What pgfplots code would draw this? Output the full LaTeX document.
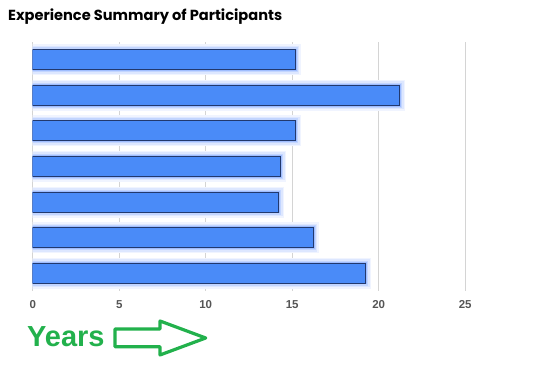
\documentclass[border=0pt]{standalone}
\usepackage{fontspec}
\setmainfont{Liberation Sans}
\newfontfamily\titlefont{Poppins}
\usepackage{pgfplots}
\pgfplotsset{compat=1.18}
\definecolor{barblue}{HTML}{4A8BF8}
\definecolor{bardark}{HTML}{22396E}
\definecolor{glowa}{HTML}{F0F4FF}
\definecolor{glowb}{HTML}{DDE7FF}
\definecolor{glowc}{HTML}{C2D5FF}
\definecolor{glowd}{HTML}{9FBDFF}
\definecolor{gridc}{HTML}{D4D4D4}
\definecolor{tickc}{HTML}{555555}
\definecolor{ygreen}{HTML}{22B14C}
\begin{document}
\begin{tikzpicture}[x=1pt,y=1pt]
\path[use as bounding box] (0,0) rectangle (555,374);
\coordinate (O) at (32.7,83);
\node[anchor=base west, inner sep=0, font=\titlefont\bfseries\fontsize{14.6}{17}\selectfont] at (8,353.3) {Experience Summary of Participants};
\begin{axis}[at={(O)}, anchor=south west, scale only axis,
  width=501.7pt, height=249pt,
  xmin=0, xmax=29, ymin=-0.5, ymax=6.5,
  axis line style={draw=none},
  xtick={0,5,...,25}, ytick=\empty,
  xmajorgrids, grid style={gridc, line width=0.8pt},
  major tick length=0pt,
  xticklabel style={font=\bfseries\fontsize{11.5}{12}\selectfont, text=tickc, yshift=-6pt},
  /pgf/number format/assume math mode=true,
  xbar, bar width=20pt]
\addplot[fill=barblue, draw=bardark, line width=0.9pt,
  preaction={draw=glowa, line width=11pt},
  preaction={draw=glowb, line width=8pt},
  preaction={draw=glowc, line width=5pt},
  preaction={draw=glowd, line width=2.5pt}]
  coordinates {(19.25,0) (16.22,1) (14.22,2) (14.33,3) (15.2,4) (21.21,5) (15.18,6)};
\end{axis}
\node[anchor=west, inner sep=0, text=ygreen, font=\bfseries\fontsize{29}{30}\selectfont] at (27,37) {Years};
\draw[ygreen, line width=3.2pt, line join=round] (115,45) -- (160,45) -- (160,53) -- (205.7,36) -- (160,19) -- (160,27.3) -- (115,27.3) -- cycle;
\end{tikzpicture}
\end{document}
